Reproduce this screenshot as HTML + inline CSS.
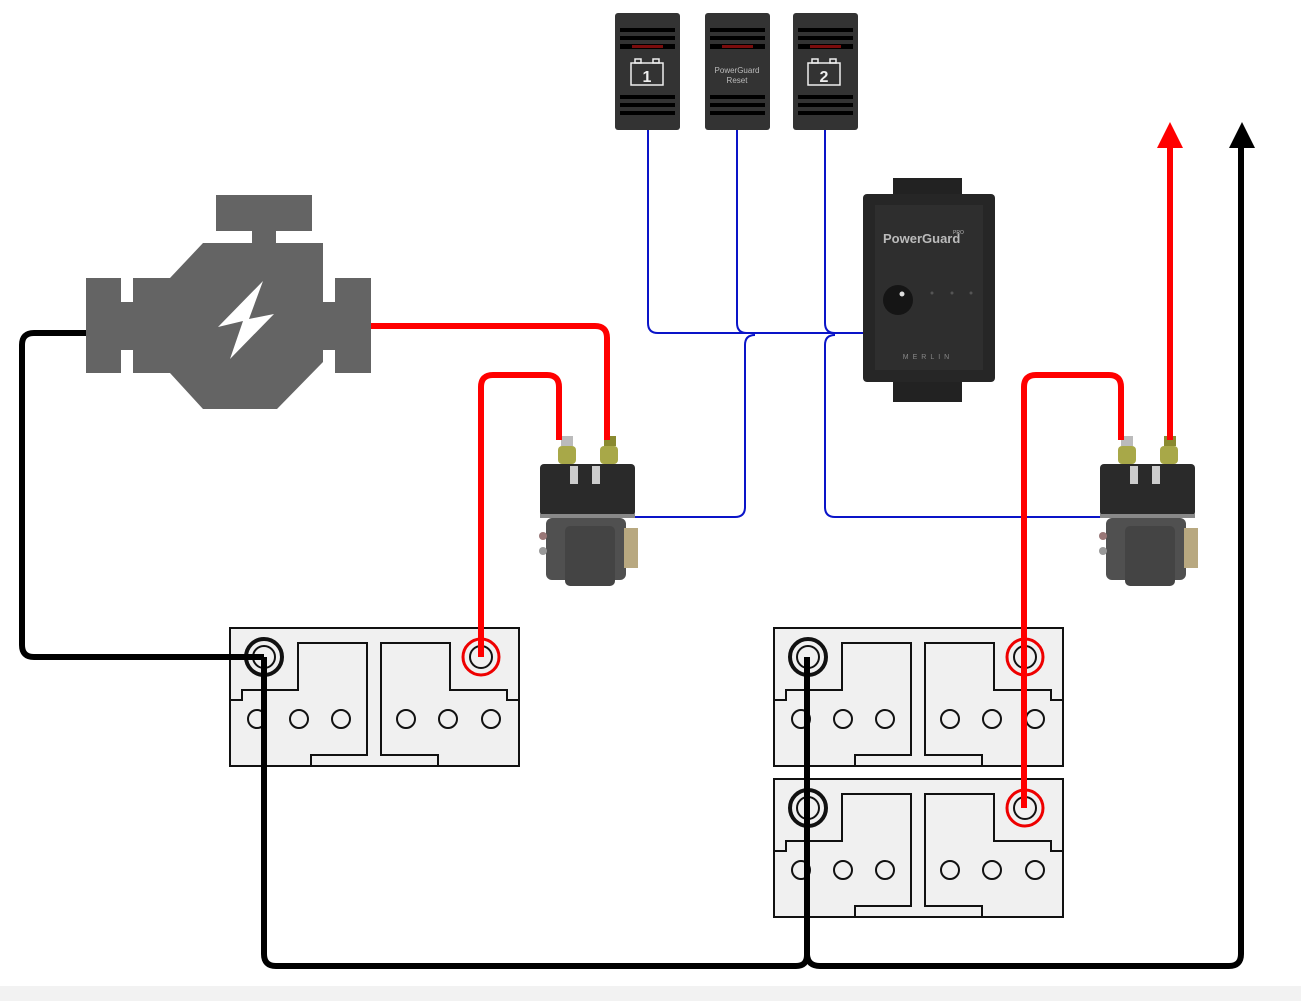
<!DOCTYPE html>
<html><head><meta charset="utf-8"><style>html,body{margin:0;padding:0;background:#fff}svg{display:block}</style></head>
<body>
<svg width="1301" height="1001" viewBox="0 0 1301 1001" xmlns="http://www.w3.org/2000/svg" font-family="Liberation Sans, sans-serif">
<defs>
<g id="bat">
 <rect x="230" y="628" width="289" height="138" fill="#f0f0f0" stroke="#111" stroke-width="2"/>
 <polyline points="230,700 242,700 242,690 298,690 298,643 367,643 367,755 311,755 311,766" fill="none" stroke="#111" stroke-width="2"/>
 <polyline points="519,700 507,700 507,690 450,690 450,643 381,643 381,755 438,755 438,766" fill="none" stroke="#111" stroke-width="2"/>
 <g fill="none" stroke="#111" stroke-width="2">
  <circle cx="257" cy="719" r="9"/><circle cx="299" cy="719" r="9"/><circle cx="341" cy="719" r="9"/>
  <circle cx="406" cy="719" r="9"/><circle cx="448" cy="719" r="9"/><circle cx="491" cy="719" r="9"/>
  <circle cx="264" cy="657" r="18" stroke-width="4"/><circle cx="264" cy="657" r="11"/>
  <circle cx="481" cy="657" r="18" stroke="#e00" stroke-width="3"/><circle cx="481" cy="657" r="11"/>
 </g>
</g>
<g id="sw">
 <rect x="0" y="0" width="65" height="117" rx="3" fill="#333"/>
 <rect x="5" y="15" width="55" height="4" fill="#000"/><rect x="5" y="23" width="55" height="4" fill="#000"/>
 <rect x="5" y="31" width="55" height="5" fill="#000"/><rect x="17" y="32" width="31" height="3" fill="#7a0c0c"/>
 <rect x="5" y="82" width="55" height="4" fill="#000"/><rect x="5" y="90" width="55" height="4" fill="#000"/><rect x="5" y="98" width="55" height="4" fill="#000"/>
</g>
<g id="sol">
 <rect x="21" y="0" width="12" height="10" fill="#bbb"/><rect x="64" y="0" width="12" height="10" fill="#8a8a30"/>
 <rect x="18" y="10" width="18" height="18" rx="4" fill="#a8a848"/><rect x="60" y="10" width="18" height="18" rx="4" fill="#a8a848"/>
 <rect x="0" y="28" width="95" height="52" rx="4" fill="#2a2a2a"/>
 <rect x="30" y="30" width="8" height="18" fill="#ccc"/><rect x="52" y="30" width="8" height="18" fill="#ccc"/>
 <rect x="0" y="78" width="95" height="4" fill="#888"/>
 <rect x="6" y="82" width="80" height="62" rx="6" fill="#505050"/>
 <rect x="25" y="90" width="50" height="60" rx="5" fill="#444"/>
 <rect x="84" y="92" width="14" height="40" fill="#b8a880"/>
 <circle cx="3" cy="100" r="4" fill="#977"/><circle cx="3" cy="115" r="4" fill="#999"/>
</g>
</defs>

<!-- blue wires -->
<g fill="none" stroke="#0a14c8" stroke-width="2">
 <path d="M648 130 V323 Q648 333 658 333 H864"/>
 <path d="M737 130 V323 Q737 333 747 333"/>
 <path d="M825 130 V323 Q825 333 835 333"/>
 <path d="M625 517 H735 Q745 517 745 507 V345 Q745 335 755 335"/>
 <path d="M1105 517 H835 Q825 517 825 507 V345 Q825 335 835 335"/>
</g>

<!-- switches -->
<use href="#sw" x="615" y="13"/>
<use href="#sw" x="705" y="13"/>
<use href="#sw" x="793" y="13"/>
<g fill="none" stroke="#eee" stroke-width="1.5">
 <rect x="631" y="63" width="32" height="22"/><rect x="635" y="59" width="6" height="4"/><rect x="653" y="59" width="6" height="4"/>
 <rect x="808" y="63" width="32" height="22"/><rect x="812" y="59" width="6" height="4"/><rect x="830" y="59" width="6" height="4"/>
</g>
<text x="647" y="82" font-size="16" font-weight="bold" fill="#eee" text-anchor="middle">1</text>
<text x="824" y="82" font-size="16" font-weight="bold" fill="#eee" text-anchor="middle">2</text>
<text x="737" y="73" font-size="8" fill="#bbb" text-anchor="middle">PowerGuard</text>
<text x="737" y="83" font-size="8" fill="#bbb" text-anchor="middle">Reset</text>

<!-- PowerGuard -->
<rect x="893" y="178" width="69" height="25" fill="#222"/>
<rect x="893" y="370" width="69" height="32" fill="#222"/>
<rect x="863" y="194" width="132" height="188" rx="4" fill="#262626"/>
<rect x="875" y="205" width="108" height="165" fill="#2e2e2e"/>
<text x="883" y="243" font-size="13" font-weight="bold" fill="#bbb">PowerGuard</text>
<text x="953" y="234" font-size="5" fill="#bbb">PRO</text>
<circle cx="898" cy="300" r="15" fill="#151515"/><circle cx="902" cy="294" r="2.5" fill="#ddd"/>
<circle cx="932" cy="293" r="1.5" fill="#555"/><circle cx="952" cy="293" r="1.5" fill="#555"/><circle cx="971" cy="293" r="1.5" fill="#555"/>
<text x="928" y="359" font-size="7" fill="#888" text-anchor="middle" letter-spacing="4">MERLIN</text>

<!-- engine -->
<g fill="#646464">
 <rect x="216" y="195" width="96" height="36"/>
 <rect x="252" y="230" width="24" height="14"/>
 <polygon points="203,243 323,243 323,362 277,409 203,409 170,373 170,278"/>
 <rect x="86" y="278" width="35" height="95"/><rect x="120" y="302" width="14" height="48"/><rect x="133" y="278" width="40" height="95"/>
 <rect x="335" y="278" width="36" height="95"/><rect x="322" y="302" width="14" height="48"/>
</g>
<polygon points="263,281 218,327 243,321 230,359 274,314 249,319" fill="#fff"/>

<!-- batteries -->
<use href="#bat"/>
<use href="#bat" x="544"/>
<use href="#bat" x="544" y="151"/>

<!-- solenoids -->
<use href="#sol" x="540" y="436"/>
<use href="#sol" x="1100" y="436"/>

<!-- red wires -->
<g fill="none" stroke="#f00" stroke-width="6" stroke-linejoin="round">
 <path d="M371 326 H595 Q607 326 607 338 V440"/>
 <path d="M481 657 V387 Q481 375 493 375 H547 Q559 375 559 387 V440"/>
 <path d="M1024 808 V387 Q1024 375 1036 375 H1109 Q1121 375 1121 387 V440"/>
 <path d="M1170 440 V145"/>
</g>
<polygon points="1157,148 1183,148 1170,122" fill="#f00"/>

<!-- black wires -->
<g fill="none" stroke="#000" stroke-width="6" stroke-linejoin="round">
 <path d="M86 333 H34 Q22 333 22 345 V645 Q22 657 34 657 H264"/>
 <path d="M264 657 V954 Q264 966 276 966 H796 Q807 966 807 955 V657"/>
 <path d="M807 955 Q808 966 820 966 H1229 Q1241 966 1241 954 V145"/>
</g>
<polygon points="1229,148 1255,148 1242,122" fill="#000"/>

<rect x="0" y="986" width="1301" height="15" fill="#f2f2f2"/>
</svg>
</body></html>
